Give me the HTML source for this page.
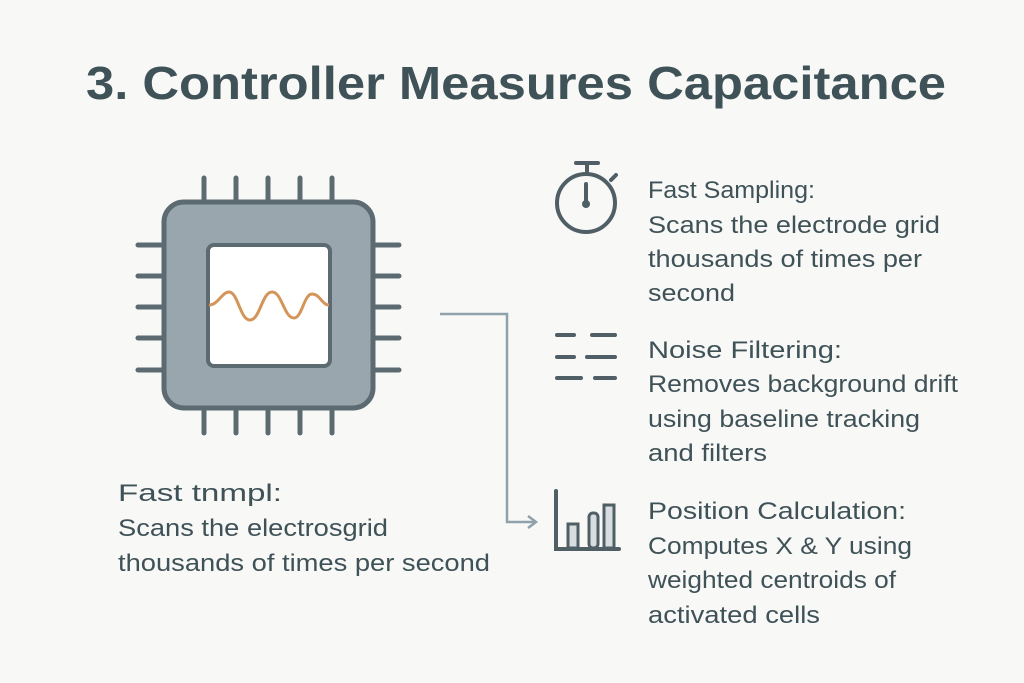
<!DOCTYPE html>
<html><head><meta charset="utf-8"><style>
body{margin:0;background:#f8f8f7;}
svg{display:block}
text{font-family:"Liberation Sans",sans-serif;fill:#3f5257}
</style></head><body>
<svg width="1024" height="683" viewBox="0 0 1024 683">
<rect width="1024" height="683" fill="#f8f8f7"/>
<text x="86" y="99" font-size="46" font-weight="bold" fill="#3b4e54" textLength="860" lengthAdjust="spacingAndGlyphs">3. Controller Measures Capacitance</text>
<g stroke="#5b6b71" stroke-width="5" stroke-linecap="round">
<path d="M204 178V202M236 178V202M268 178V202M300 178V202M332 178V202"/>
<path d="M204 408V433M236 408V433M268 408V433M300 408V433M332 408V433"/>
<path d="M138 245H163M138 276H163M138 307H163M138 338H163M138 370H163"/>
<path d="M373 245H399M373 276H399M373 307H399M373 338H399M373 370H399"/>
</g>
<rect x="164" y="202" width="209" height="206" rx="20" fill="#9aa6ae" stroke="#5b6b71" stroke-width="5"/>
<rect x="208" y="245" width="122" height="121" rx="6" fill="#fff" stroke="#5b6b71" stroke-width="4"/>
<path d="M209 305 C218 305 222 292 229 292 C238 292 240 320 250 320 C260 320 262 292 272 292 C282 292 284 318 294 318 C302 318 304 294 312 294 C320 294 322 305 329 305" fill="none" stroke="#d4955a" stroke-width="3"/>
<path d="M440 314H507V522H534" fill="none" stroke="#8fa1aa" stroke-width="2.5"/>
<path d="M528 516L536 522L528 528" fill="none" stroke="#8fa1aa" stroke-width="2.5"/>
<g stroke="#4f5f65" stroke-width="4" fill="none" stroke-linecap="round">
<circle cx="586" cy="203" r="29"/>
<path d="M576 163H598M587 164V174M586 184V203M611 180L616 175"/>
<path d="M557 335H574M592 335H615M557 357H574M587 357H615M557 378H581M595 378H615"/>
<path d="M556 491V549H619"/>
</g>
<circle cx="586" cy="204" r="4" fill="#4f5f65"/>
<g stroke="#4f5f65" stroke-width="3" fill="#d8dde0">
<rect x="568" y="524" width="10" height="24"/>
<rect x="589" y="513" width="9" height="35" rx="4"/>
<rect x="604" y="505" width="10" height="43"/>
</g>
<g font-size="24">
<text x="648" y="198" textLength="167" lengthAdjust="spacingAndGlyphs">Fast Sampling:</text>
<text x="648" y="233" textLength="292" lengthAdjust="spacingAndGlyphs">Scans the electrode grid</text>
<text x="648" y="267" textLength="274" lengthAdjust="spacingAndGlyphs">thousands of times per</text>
<text x="648" y="301" textLength="87" lengthAdjust="spacingAndGlyphs">second</text>
<text x="648" y="358" textLength="194" lengthAdjust="spacingAndGlyphs">Noise Filtering:</text>
<text x="648" y="392" textLength="310" lengthAdjust="spacingAndGlyphs">Removes background drift</text>
<text x="648" y="427" textLength="272" lengthAdjust="spacingAndGlyphs">using baseline tracking</text>
<text x="648" y="461" textLength="119" lengthAdjust="spacingAndGlyphs">and filters</text>
<text x="648" y="519" textLength="258" lengthAdjust="spacingAndGlyphs">Position Calculation:</text>
<text x="648" y="554" textLength="264" lengthAdjust="spacingAndGlyphs">Computes X &amp; Y using</text>
<text x="648" y="588" textLength="248" lengthAdjust="spacingAndGlyphs">weighted centroids of</text>
<text x="648" y="623" textLength="172" lengthAdjust="spacingAndGlyphs">activated cells</text>
<text x="118" y="501" textLength="164" lengthAdjust="spacingAndGlyphs">Fast tnmpl:</text>
<text x="118" y="536" textLength="270" lengthAdjust="spacingAndGlyphs">Scans the electrosgrid</text>
<text x="118" y="571" textLength="372" lengthAdjust="spacingAndGlyphs">thousands of times per second</text>
</g>
</svg>
</body></html>
